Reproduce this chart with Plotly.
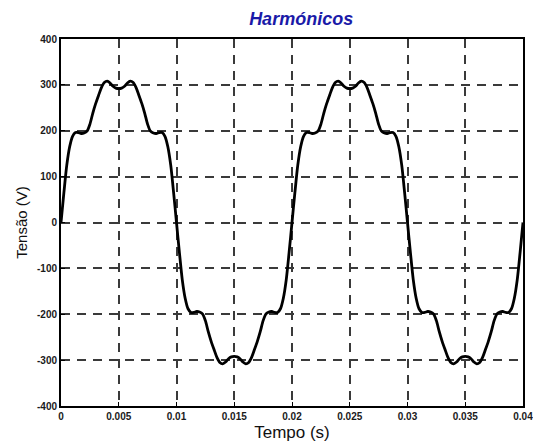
import plotly.graph_objects as go

# time samples (s), 0.25 ms step over two periods
time_ms = [i * 0.25 for i in range(161)]
time_s = [t / 1000.0 for t in time_ms]

# voltage (V)
voltage = [
    0, 65, 125, 165, 188, 196, 196, 194, 195, 199,
    214, 238, 259, 277, 294, 305, 308, 304, 297, 293,
    292, 293, 297, 304, 308, 305, 294, 277, 259, 238,
    214, 199, 195, 194, 196, 196, 188, 165, 125, 65,
    0, -65, -125, -165, -188, -196, -196, -194, -195, -199,
    -214, -238, -259, -277, -294, -305, -308, -304, -297, -293,
    -292, -293, -297, -304, -308, -305, -294, -277, -259, -238,
    -214, -199, -195, -194, -196, -196, -188, -165, -125, -65,
    0, 65, 125, 165, 188, 196, 196, 194, 195, 199,
    214, 238, 259, 277, 294, 305, 308, 304, 297, 293,
    292, 293, 297, 304, 308, 305, 294, 277, 259, 238,
    214, 199, 195, 194, 196, 196, 188, 165, 125, 65,
    0, -65, -125, -165, -188, -196, -196, -194, -195, -199,
    -214, -238, -259, -277, -294, -305, -308, -304, -297, -293,
    -292, -293, -297, -304, -308, -305, -294, -277, -259, -238,
    -214, -199, -195, -194, -196, -196, -188, -165, -125, -65,
    0,
]

x_tickvals = [0, 0.005, 0.01, 0.015, 0.02, 0.025, 0.03, 0.035, 0.04]
x_ticktext = ["0", "0.005", "0.01", "0.015", "0.02", "0.025", "0.03", "0.035", "0.04"]
y_tickvals = [-400, -300, -200, -100, 0, 100, 200, 300, 400]
y_ticktext = ["-400", "-300", "-200", "-100", "0", "100", "200", "300", "400"]

title_text = "Harmónicos"
x_title = "Tempo (s)"
y_title = "Tensão (V)"

fig = go.Figure()
fig.add_trace(go.Scatter(
    x=time_s, y=voltage, mode="lines",
    line=dict(color="black", width=2.8, shape="spline", smoothing=0.8),
    showlegend=False, hoverinfo="skip",
))

axis_common = dict(
    showline=True, linecolor="black", linewidth=2, mirror=True,
    showgrid=True, gridcolor="#3a3a3a", gridwidth=1.8, griddash="9px,7px",
    zeroline=False, ticks="inside", ticklen=4, tickcolor="black",
    automargin=False, ticklabeloverflow="allow",
    tickfont=dict(family="Liberation Sans, Arial, sans-serif", size=10,
                  color="#1a1a1a", weight="bold"),
)

fig.update_xaxes(
    range=[0, 0.04], tickvals=x_tickvals, ticktext=x_ticktext,
    title=dict(text=x_title, standoff=5,
               font=dict(family="Liberation Sans, Arial, sans-serif", size=17, color="#111111")),
    **axis_common,
)
fig.update_yaxes(
    range=[-400, 400], tickvals=y_tickvals, ticktext=y_ticktext,
    title=dict(text=y_title, standoff=6,
               font=dict(family="Liberation Sans, Arial, sans-serif", size=15, color="#111111")),
    **axis_common,
)

fig.update_layout(
    width=533, height=443,
    margin=dict(l=61, r=10, t=39, b=37),
    paper_bgcolor="white", plot_bgcolor="white",
    title=dict(text="<b><i>" + title_text + "</i></b>", x=0.565, xanchor="center",
               y=0.958, yanchor="middle", yref="container",
               font=dict(family="Liberation Sans, Arial, sans-serif", size=18, color="#1a1aa8")),
)

fig.write_html("out.html", config={"displayModeBar": False},
               post_script="document.body.style.margin='0';document.body.style.overflow='hidden';")
